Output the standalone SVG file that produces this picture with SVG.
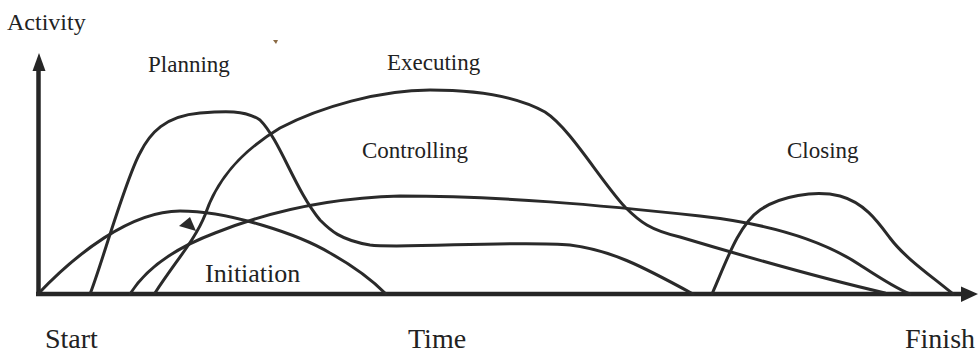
<svg xmlns="http://www.w3.org/2000/svg" width="978" height="356" viewBox="0 0 978 356">
<style>
.ax{stroke:#262626;stroke-width:4.5;fill:none}
.cv{stroke:#2a2a2a;stroke-width:3;fill:none;stroke-linecap:round;stroke-linejoin:round}
.lbl{font-family:"Liberation Serif","Times New Roman",serif;fill:#222;font-size:23px}
.big{font-size:28px}
</style>
<rect width="978" height="356" fill="#fff"/>
<g id="axes">
<line class="ax" x1="38.5" y1="294" x2="38.5" y2="66"/>
<polygon points="39,53 32.5,71 45.5,71" fill="#262626"/>
<line class="ax" x1="36" y1="294" x2="966" y2="294"/>
<polygon points="978,294 961,286.5 961,302" fill="#262626"/>
</g>
<g id="curves">
<path id="initiation-curve" class="cv" d="M38,294 C75,255 130,211 180,211 C230,211 300,235 330,253 C355,267 372,280 386,294"/>
<path id="planning-curve" class="cv" d="M90,294 C100,270 125,180 140,153 C150,133 165,116 200,113 C225,111 245,110 260,120 C280,140 295,190 320,220 C330,230 340,240 370,245 C400,249 520,240 570,245 C610,250 640,265 693,294"/>
<path id="executing-curve" class="cv" d="M155,293 C175,262 195,240 205,215 C215,185 235,155 280,128 C320,107 380,90 430,90 C480,90 520,98 545,112 C570,128 600,180 625,207 C640,222 650,230 680,237 C740,255 820,278 885,293"/>
<path id="controlling-curve" class="cv" d="M130,294 C145,270 170,250 215,233 C260,215 320,198 400,196 C500,196 600,205 700,216 C780,225 830,245 860,265 C880,278 895,288 910,294"/>
<path id="closing-curve" class="cv" d="M712,294 C725,265 738,225 760,210 C780,196 815,190 840,196 C865,203 878,222 890,238 C905,258 930,275 953,294"/>
<polygon id="marker" points="190,217 179,226 196,231" fill="#2a2a2a"/>
<polygon points="273,40 278,40 276,44" fill="#8a6a44"/>
</g>
<g id="labels">
<text class="lbl" x="7" y="30" style="font-size:24px">Activity</text>
<text class="lbl" x="148" y="72">Planning</text>
<text class="lbl" x="387" y="70">Executing</text>
<text class="lbl" x="362" y="158">Controlling</text>
<text class="lbl" x="787" y="158">Closing</text>
<text class="lbl" x="205" y="282" style="font-size:26px">Initiation</text>
<text class="lbl big" x="45" y="348">Start</text>
<text class="lbl big" x="408" y="348">Time</text>
<text class="lbl big" x="905" y="348">Finish</text>
</g>
</svg>
